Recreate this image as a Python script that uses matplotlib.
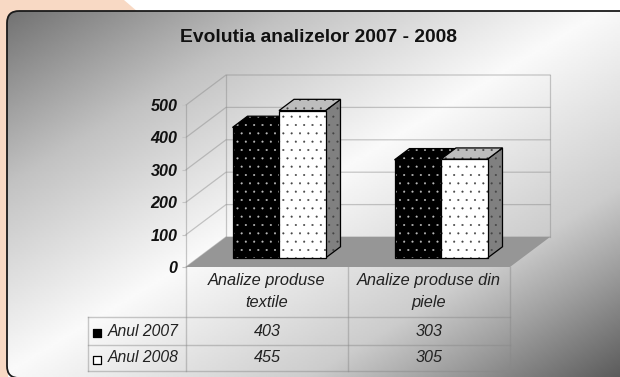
import numpy as np
import matplotlib
matplotlib.use("Agg")
import matplotlib.pyplot as plt
from matplotlib.patches import FancyBboxPatch, Polygon

plt.rcParams['font.family'] = ['Liberation Sans', 'DejaVu Sans']
plt.rcParams['hatch.linewidth'] = 0.25

title = "Evolutia analizelor 2007 - 2008"
categories = ["Analize produse\ntextile", "Analize produse din\npiele"]
series_names = ["Anul 2007", "Anul 2008"]
values_2007 = [403, 303]
values_2008 = [455, 305]
y_ticks = [0, 100, 200, 300, 400, 500]

W, H = 620, 377
fig = plt.figure(figsize=(W / 100, H / 100), dpi=100, facecolor='white')

# ---- page and gradient panel (pixel axes)
bg = fig.add_axes([0, 0, 1, 1])
bg.autoscale(False)
bg.set_xlim(0, W); bg.set_ylim(H, 0); bg.axis('off')
bg.add_patch(Polygon([(0, 0), (124, 0), (138, 12), (20, 12), (8, 377), (0, 377)],
                     closed=True, fc='#F8D9C4', ec='none', zorder=0))
panel = FancyBboxPatch((19, 23), 604, 343, boxstyle="round,pad=12,rounding_size=12",
                       fc='none', ec='#1a1a1a', lw=1.3, zorder=3)
bg.add_patch(panel)
yy, xx = np.mgrid[0:1:200j, 0:1:300j]
t = 0.5 * (xx + yy)
grad = np.interp(t, [0, 0.16, 0.25, 0.5, 0.75, 0.85, 1.0], [0.42, 0.64, 0.76, 0.98, 0.80, 0.63, 0.36])
im = bg.imshow(grad, extent=(0, W, H, 0), cmap='gray', vmin=0, vmax=1, aspect='auto', zorder=1,
               interpolation='bilinear')
fill = FancyBboxPatch((19, 23), 604, 343, boxstyle="round,pad=12,rounding_size=12",
                      fc='none', ec='none', transform=bg.transData)
bg.add_patch(fill)
im.set_clip_path(fill)
bg.set_xlim(0, W); bg.set_ylim(H, 0)

bg.text(319, 37, title, ha='center', va='center', fontsize=13.9, fontweight='bold', color='#111111', zorder=5)

# ---- chart axes: front plane of the 3D box
L, R, T, B = 186, 510, 105, 267
ax = fig.add_axes([L / W, 1 - B / H, (R - L) / W, (B - T) / H], facecolor='none')
ax.set_xlim(-0.5, 1.5)
ax.set_ylim(0, 500)
for s in ['top', 'right', 'bottom']:
    ax.spines[s].set_visible(False)
GRID = '#888888'
GA = 0.45
ax.spines['left'].set_color(GRID)
ax.spines['left'].set_alpha(GA)
ax.spines['left'].set_linewidth(0.9)
px_x = 2.0 / (R - L)
px_y = 500.0 / (B - T)
DX, DY = 40 * px_x, 30 * px_y  # full depth of the box in data units


def proj(x, v, d):
    return (x + d * DX, v + d * DY)


ax.set_yticks(y_ticks)
ax.set_yticklabels([str(v) for v in y_ticks], fontsize=11.6, fontweight='bold', fontstyle='italic', color='#111111')
ax.tick_params(axis='y', length=3, width=0.8, color='#c4c4c4', pad=3)
ax.set_xticks([0, 1])
ax.set_xticklabels(categories, fontsize=11.8, fontstyle='italic', color='#222222', linespacing=1.55)
ax.tick_params(axis='x', length=0, pad=4.5)

# walls
xl, xr = -0.5, 1.5
lk = dict(color=GRID, alpha=GA, lw=0.9, clip_on=False, zorder=1)
for v in y_ticks:
    ax.plot(*zip(proj(xl, v, 0), proj(xl, v, 1), proj(xr, v, 1)), **lk)
ax.plot(*zip(proj(xl, 0, 1), proj(xl, 500, 1)), **lk)
ax.plot(*zip(proj(xr, 0, 1), proj(xr, 500, 1)), **lk)
# floor
ax.add_patch(Polygon([proj(xl, 0, 0), proj(xl, 0, 1), proj(xr, 0, 1), proj(xr, 0, 0)], closed=True,
                     fc='#969696', ec='none', clip_on=False, zorder=1.5))


def face(pts, fc, dots, z):
    ax.add_patch(Polygon(pts, closed=True, fc=fc, ec=dots, hatch='..', lw=0, clip_on=False, zorder=z))
    ax.add_patch(Polygon(pts, closed=True, fc='none', ec='black', lw=0.9, clip_on=False, zorder=z + 0.01))


def bar3d(x0, x1, v, front, side, top, dots, z):
    d0, d1 = 0.3, 0.675
    face([proj(x1, 0, d0), proj(x1, 0, d1), proj(x1, v, d1), proj(x1, v, d0)], side, dots, z)
    face([proj(x0, v, d0), proj(x1, v, d0), proj(x1, v, d1), proj(x0, v, d1)], top, dots, z + 0.1)
    face([proj(x0, 0, d0), proj(x1, 0, d0), proj(x1, v, d0), proj(x0, v, d0)], front, dots, z + 0.2)


bw = 46.5 * px_x
for i, (a, b) in enumerate(zip(values_2007, values_2008)):
    bar3d(i - bw, i, a, 'black', 'black', 'black', '#bbbbbb', 2 + i)
    bar3d(i, i + bw, b, 'white', '#808080', '#bdbdbd', '#444444', 2.5 + i)

# ---- data table, positioned in pixels on the background axes
y_rows = [317, 345, 371]
tab_kw = dict(color='#888888', alpha=0.45, lw=1.0, zorder=4)
bg.plot([186, 186], [267, 371], **tab_kw)
bg.plot([348, 348], [267, 371], **tab_kw)
bg.plot([510, 510], [267, 371], **tab_kw)
bg.plot([88, 88], [317, 371], **tab_kw)
for yr in y_rows:
    bg.plot([88, 510], [yr, yr], **tab_kw)
row_y = [331, 358]
rows = [values_2007, values_2008]
key_fc = ['black', 'white']
for r, (name, vals) in enumerate(zip(series_names, rows)):
    bg.text(178.5, row_y[r], name, ha='right', va='center', fontsize=11.3, fontstyle='italic', color='#222222', zorder=5)
    bg.scatter([97], [row_y[r] + 2], marker='s', s=36, fc=key_fc[r], ec='black', lw=0.9, zorder=5)
    for c, v in enumerate(vals):
        bg.text(267.5 + 161.5 * c, row_y[r], str(v), ha='center', va='center', fontsize=11.6,
                fontstyle='italic', color='#222222', zorder=5)

fig.savefig('out.png', dpi=100, facecolor='white')
